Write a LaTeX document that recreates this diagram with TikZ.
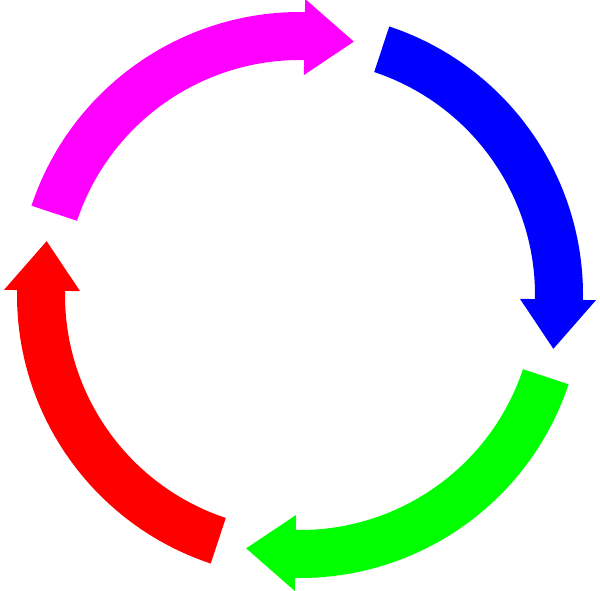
\documentclass[tikz,border=0pt]{standalone}
\definecolor{pmag}{RGB}{255,0,255}
\begin{document}
\begin{tikzpicture}
\useasboundingbox (0pt,0pt) rectangle (600pt,590pt);
\newcommand{\arcarrow}[2]{% #1 tail angle, #2 colour
  \pgfmathsetmacro{\ta}{#1}\pgfmathsetmacro{\hb}{#1-72.6}\pgfmathsetmacro{\tp}{#1-83.6}
  \begin{scope}[shift={(300pt,295pt)}]
  \fill[#2] (\ta:283pt) arc[start angle=\ta,end angle=\hb,radius=283pt]
    -- (\hb:296pt) -- (\tp:259pt) -- (\hb:220pt)
    -- (\hb:235pt) arc[start angle=\hb,end angle=\ta,radius=235pt] -- cycle;
  \end{scope}}
\arcarrow{161.6}{pmag}
\arcarrow{71.6}{blue}
\arcarrow{-18.4}{green}
\arcarrow{-108.4}{red}
\end{tikzpicture}
\end{document}
